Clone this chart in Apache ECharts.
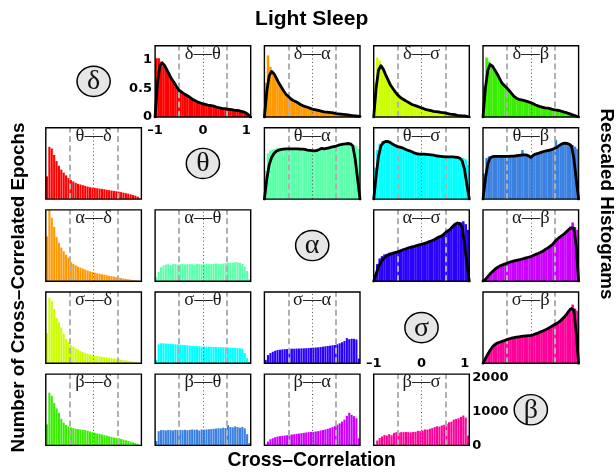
<!DOCTYPE html>
<html><head><meta charset="utf-8">
<script src="https://cdn.jsdelivr.net/npm/echarts@6/dist/echarts.min.js"></script>
<style>html,body{margin:0;padding:0;background:#fff}#c{width:616px;height:472px}</style>
</head><body><div id="c"></div>
<script>
const BANDS = ['δ','θ','α','σ','β'];
const BIN_CENTERS = [-0.975,-0.925,-0.875,-0.825,-0.775,-0.725,-0.675,-0.625,-0.575,-0.525,-0.475,-0.425,-0.375,-0.325,-0.275,-0.225,-0.175,-0.125,-0.075,-0.025,0.025,0.075,0.125,0.175,0.225,0.275,0.325,0.375,0.425,0.475,0.525,0.575,0.625,0.675,0.725,0.775,0.825,0.875,0.925,0.975];
const CURVE_X = [-1,-0.95,-0.9,-0.85,-0.8,-0.75,-0.7,-0.65,-0.6,-0.55,-0.5,-0.45,-0.4,-0.35,-0.3,-0.25,-0.2,-0.15,-0.1,-0.05,0,0.05,0.1,0.15,0.2,0.25,0.3,0.35,0.4,0.45,0.5,0.55,0.6,0.65,0.7,0.75,0.8,0.85,0.9,0.95,1];
const GUIDE_DASHED = [-0.5, 0.5];
const GUIDE_DOTTED = [0];

// Upper triangle: rescaled histograms + fitted curves
const RESCALED_DELTA_THETA = [1.03,1.03,0.97,0.90,0.84,0.78,0.70,0.63,0.56,0.50,0.455,0.425,0.40,0.37,0.345,0.315,0.29,0.27,0.25,0.24,0.225,0.215,0.21,0.20,0.19,0.18,0.165,0.155,0.148,0.142,0.138,0.132,0.125,0.118,0.112,0.105,0.095,0.08,0.055,0.03];
const CURVE_DELTA_THETA = [0,0.6,0.9,0.95,0.90,0.82,0.74,0.66,0.60,0.53,0.47,0.44,0.41,0.385,0.36,0.33,0.30,0.28,0.26,0.245,0.23,0.22,0.21,0.205,0.195,0.185,0.17,0.16,0.15,0.145,0.14,0.135,0.13,0.12,0.115,0.11,0.10,0.09,0.07,0.04,0];
const RESCALED_DELTA_ALPHA = [0.60,1.08,0.88,0.78,0.72,0.64,0.56,0.49,0.43,0.38,0.34,0.305,0.28,0.26,0.235,0.21,0.19,0.178,0.162,0.148,0.135,0.125,0.115,0.105,0.095,0.088,0.082,0.078,0.072,0.065,0.058,0.052,0.048,0.042,0.038,0.032,0.028,0.022,0.018,0.01];
const CURVE_DELTA_ALPHA = [0,0.45,0.72,0.80,0.76,0.68,0.60,0.53,0.46,0.40,0.36,0.32,0.29,0.27,0.25,0.22,0.20,0.185,0.17,0.155,0.14,0.13,0.12,0.11,0.10,0.09,0.085,0.08,0.075,0.07,0.06,0.055,0.05,0.045,0.04,0.035,0.03,0.025,0.02,0.015,0.01];
const RESCALED_DELTA_SIGMA = [0.60,1.04,0.99,0.86,0.78,0.69,0.60,0.53,0.47,0.42,0.37,0.335,0.31,0.285,0.26,0.235,0.21,0.198,0.183,0.168,0.153,0.138,0.125,0.115,0.105,0.098,0.092,0.085,0.078,0.072,0.065,0.055,0.048,0.042,0.035,0.028,0.022,0.02,0.015,0.008];
const CURVE_DELTA_SIGMA = [0,0.5,0.82,0.90,0.84,0.74,0.65,0.56,0.50,0.44,0.39,0.35,0.32,0.295,0.27,0.245,0.22,0.205,0.19,0.175,0.16,0.145,0.13,0.12,0.11,0.10,0.095,0.09,0.08,0.075,0.07,0.06,0.05,0.045,0.04,0.03,0.025,0.02,0.02,0.01,0];
const RESCALED_DELTA_BETA = [0.55,1.04,0.97,0.90,0.85,0.78,0.71,0.63,0.57,0.53,0.49,0.44,0.385,0.345,0.32,0.30,0.295,0.285,0.272,0.258,0.242,0.222,0.203,0.188,0.175,0.165,0.158,0.15,0.14,0.13,0.122,0.115,0.105,0.092,0.08,0.068,0.052,0.038,0.022,0.01];
const CURVE_DELTA_BETA = [0,0.5,0.82,0.92,0.89,0.82,0.75,0.67,0.59,0.55,0.51,0.46,0.41,0.36,0.33,0.31,0.30,0.29,0.28,0.265,0.25,0.235,0.21,0.195,0.18,0.17,0.16,0.155,0.145,0.135,0.125,0.12,0.11,0.10,0.085,0.075,0.06,0.045,0.03,0.015,0];
const RESCALED_THETA_ALPHA = [0.50,0.80,0.85,0.87,0.88,0.90,0.89,0.88,0.89,0.88,0.90,0.88,0.87,0.89,0.88,0.87,0.88,0.86,0.87,0.85,0.85,0.86,0.87,0.88,0.89,0.87,0.90,0.91,0.92,0.92,0.94,0.95,0.96,0.98,0.97,0.99,0.97,0.95,0.93,0.88];
const CURVE_THETA_ALPHA = [0,0.35,0.60,0.73,0.80,0.84,0.86,0.87,0.875,0.88,0.88,0.88,0.88,0.88,0.88,0.875,0.875,0.87,0.86,0.855,0.85,0.845,0.855,0.87,0.89,0.88,0.89,0.90,0.91,0.92,0.93,0.945,0.955,0.965,0.97,0.975,0.97,0.93,0.70,0.35,0];
const RESCALED_THETA_SIGMA = [0.55,0.86,0.97,1.01,1.02,1.01,1.00,0.97,0.95,0.93,0.92,0.90,0.89,0.87,0.85,0.84,0.82,0.80,0.79,0.80,0.79,0.79,0.78,0.78,0.77,0.77,0.76,0.76,0.75,0.74,0.74,0.74,0.75,0.74,0.73,0.73,0.72,0.72,0.70,0.60];
const CURVE_THETA_SIGMA = [0,0.40,0.75,0.93,0.99,1.01,1.01,0.99,0.96,0.94,0.92,0.91,0.90,0.88,0.86,0.845,0.83,0.81,0.795,0.79,0.79,0.79,0.785,0.78,0.775,0.77,0.76,0.755,0.75,0.745,0.74,0.74,0.74,0.74,0.735,0.73,0.72,0.67,0.52,0.25,0];
const RESCALED_THETA_BETA = [0.45,0.72,0.75,0.75,0.76,0.74,0.75,0.76,0.75,0.74,0.75,0.76,0.75,0.76,0.77,0.77,0.86,0.78,0.77,0.74,0.75,0.78,0.79,0.81,0.82,0.83,0.84,0.85,0.86,0.88,1.04,0.92,0.95,0.97,0.98,0.98,0.97,0.95,0.92,0.88];
const CURVE_THETA_BETA = [0,0.35,0.62,0.72,0.745,0.75,0.75,0.75,0.75,0.75,0.75,0.75,0.755,0.755,0.76,0.765,0.77,0.775,0.775,0.76,0.73,0.77,0.79,0.80,0.815,0.83,0.84,0.85,0.86,0.87,0.89,0.91,0.94,0.97,0.98,0.975,0.965,0.93,0.72,0.35,0];
const RESCALED_ALPHA_SIGMA = [0.10,0.30,0.40,0.44,0.47,0.48,0.50,0.50,0.52,0.53,0.55,0.55,0.57,0.58,0.60,0.60,0.61,0.62,0.63,0.64,0.65,0.66,0.68,0.70,0.71,0.73,0.76,0.79,0.80,0.84,0.86,0.89,0.95,0.98,1.02,1.04,1.03,1.05,1.00,0.90];
const CURVE_ALPHA_SIGMA = [0,0.13,0.25,0.33,0.39,0.43,0.46,0.475,0.49,0.50,0.515,0.53,0.545,0.56,0.575,0.59,0.60,0.61,0.625,0.635,0.645,0.66,0.67,0.69,0.705,0.72,0.745,0.77,0.785,0.81,0.85,0.88,0.91,0.96,1.0,1.02,1.01,0.95,0.65,0.30,0];
const RESCALED_ALPHA_BETA = [0.02,0.06,0.11,0.15,0.19,0.23,0.255,0.275,0.295,0.31,0.32,0.34,0.35,0.36,0.37,0.38,0.39,0.40,0.41,0.42,0.44,0.46,0.48,0.50,0.51,0.54,0.57,0.59,0.62,0.66,0.71,0.75,0.79,0.82,0.85,0.89,0.96,1.03,0.95,0.90];
const CURVE_ALPHA_BETA = [0,0.03,0.08,0.13,0.17,0.21,0.24,0.265,0.285,0.30,0.315,0.33,0.345,0.355,0.365,0.375,0.385,0.395,0.41,0.42,0.43,0.45,0.47,0.485,0.505,0.525,0.555,0.58,0.61,0.64,0.69,0.73,0.77,0.80,0.83,0.87,0.91,0.935,0.93,0.62,0];
const RESCALED_SIGMA_BETA = [0.04,0.12,0.20,0.26,0.31,0.345,0.365,0.38,0.39,0.41,0.42,0.44,0.445,0.455,0.46,0.47,0.475,0.48,0.485,0.49,0.495,0.51,0.52,0.54,0.56,0.575,0.595,0.62,0.64,0.67,0.69,0.72,0.75,0.79,0.84,0.89,0.97,1.03,0.96,0.92];
const CURVE_SIGMA_BETA = [0,0.08,0.16,0.23,0.29,0.33,0.355,0.37,0.385,0.40,0.415,0.43,0.44,0.45,0.46,0.465,0.47,0.475,0.48,0.485,0.49,0.50,0.515,0.53,0.55,0.565,0.585,0.605,0.63,0.655,0.68,0.70,0.73,0.77,0.81,0.86,0.92,0.96,0.93,0.55,0];

// Lower triangle: raw counts of cross-correlated epochs
const COUNT_THETA_DELTA = [670,1540,1490,1300,1120,980,870,780,700,620,560,520,480,450,430,410,390,370,350,340,330,320,310,300,290,275,265,250,240,230,220,205,190,175,160,140,120,100,70,20];
const COUNT_ALPHA_DELTA = [1320,2100,1870,1600,1300,1130,990,880,780,690,560,510,470,430,400,370,340,315,290,270,250,235,220,205,190,175,160,148,135,120,105,92,80,68,56,45,35,26,17,8];
const COUNT_ALPHA_THETA = [120,270,410,460,490,500,480,500,510,490,500,505,495,500,510,500,490,505,500,495,500,510,500,505,510,520,515,500,520,530,540,550,545,560,555,540,510,430,300,60];
const COUNT_SIGMA_DELTA = [890,1935,1840,1600,1335,1210,1065,870,715,630,540,490,440,400,360,330,300,280,260,240,220,210,200,190,180,170,160,150,140,130,118,105,95,82,70,58,45,32,20,8];
const COUNT_SIGMA_THETA = [100,560,590,585,580,575,570,565,560,555,545,540,535,525,520,515,510,505,500,495,495,490,490,485,480,480,475,475,470,470,465,460,455,450,445,440,430,300,150,40];
const COUNT_SIGMA_ALPHA = [100,240,300,340,370,390,400,410,415,420,425,430,430,435,435,440,440,445,450,455,460,465,470,480,490,500,510,520,530,540,560,590,620,660,740,710,725,720,700,140];
const COUNT_BETA_DELTA = [620,1555,1460,1250,1090,960,780,670,600,560,530,510,490,480,470,460,450,430,410,390,370,350,340,320,300,290,270,250,230,220,210,190,170,150,130,110,90,70,45,15];
const COUNT_BETA_THETA = [130,420,450,450,440,455,450,440,460,450,455,450,460,445,455,470,460,465,440,470,460,470,475,480,490,495,505,500,520,510,600,540,530,560,540,520,545,500,330,70];
const COUNT_BETA_ALPHA = [25,110,180,210,240,260,270,280,290,300,310,320,330,340,350,360,370,380,390,395,400,410,420,440,455,470,490,510,540,570,610,650,700,760,870,960,900,860,800,210];
const COUNT_BETA_SIGMA = [20,145,215,265,310,290,330,300,370,390,375,390,390,395,390,385,395,400,430,420,440,470,465,490,510,540,560,555,585,605,635,680,700,760,780,800,840,880,820,290];

const UPPER_PANELS = [
  [0,1,RESCALED_DELTA_THETA,CURVE_DELTA_THETA],[0,2,RESCALED_DELTA_ALPHA,CURVE_DELTA_ALPHA],
  [0,3,RESCALED_DELTA_SIGMA,CURVE_DELTA_SIGMA],[0,4,RESCALED_DELTA_BETA,CURVE_DELTA_BETA],
  [1,2,RESCALED_THETA_ALPHA,CURVE_THETA_ALPHA],[1,3,RESCALED_THETA_SIGMA,CURVE_THETA_SIGMA],
  [1,4,RESCALED_THETA_BETA,CURVE_THETA_BETA],[2,3,RESCALED_ALPHA_SIGMA,CURVE_ALPHA_SIGMA],
  [2,4,RESCALED_ALPHA_BETA,CURVE_ALPHA_BETA],[3,4,RESCALED_SIGMA_BETA,CURVE_SIGMA_BETA]
];
const LOWER_PANELS = [
  [1,0,COUNT_THETA_DELTA],[2,0,COUNT_ALPHA_DELTA],[2,1,COUNT_ALPHA_THETA],
  [3,0,COUNT_SIGMA_DELTA],[3,1,COUNT_SIGMA_THETA],[3,2,COUNT_SIGMA_ALPHA],
  [4,0,COUNT_BETA_DELTA],[4,1,COUNT_BETA_THETA],[4,2,COUNT_BETA_ALPHA],[4,3,COUNT_BETA_SIGMA]
];

// styles
const PAIR_COLOR = {
  '0-1':'#ff0000','0-2':'#ff9900','0-3':'#ccff00','0-4':'#38ee00',
  '1-2':'#5cffaa','1-3':'#00ffff','1-4':'#3a80e0',
  '2-3':'#2a00ff','2-4':'#cc00ff','3-4':'#ff0099'
};
const L0 = 45.8, T0 = 45.7, DX = 109.3, DY = 82.1, PW = 95.6, PH = 71.3;
const TICK_FONT = {fontFamily:'DejaVu Sans', fontWeight:'bold', fontSize:13, color:'#000'};

const grids = [], xAxes = [], yAxes = [], series = [], graphics = [];

function addPanel(r, c, bars, curve) {
  const idx = grids.length;
  const left = L0 + DX * c, top = T0 + DY * r;
  const upper = r < c;
  const color = PAIR_COLOR[Math.min(r, c) + '-' + Math.max(r, c)];
  const isTL = (r === 0 && c === 1), isBR = (r === 4 && c === 3);
  const binPx = PW / BIN_CENTERS.length;
  grids.push({left, top, width: PW, height: PH, show: true, z: 20,
    borderColor: '#000', borderWidth: 1.4, backgroundColor: 'transparent'});
  xAxes.push({gridIndex: idx, type: 'value', min: -1, max: 1, interval: 1,
    position: isBR ? 'top' : 'bottom',
    axisLine: {show: false}, axisTick: {show: false}, splitLine: {show: false},
    axisLabel: Object.assign({show: isTL || isBR, margin: isBR ? 4 : 7,
      alignMaxLabel: 'right',
      formatter: v => v < 0 ? '–' + Math.abs(v) : String(v)}, TICK_FONT)});
  yAxes.push({gridIndex: idx, type: 'value', min: 0, max: upper ? 1.25 : 2100,
    interval: upper ? 0.5 : 1000, position: isBR ? 'right' : 'left',
    axisLine: {show: false}, axisTick: {show: false}, splitLine: {show: false},
    axisLabel: Object.assign({show: isTL || isBR, margin: 3, showMaxLabel: false,
      formatter: v => String(v)}, TICK_FONT)});
  const ml = [];
  GUIDE_DASHED.forEach(v => ml.push({xAxis: v, lineStyle: {type: [6, 3.5], width: 2, color: '#b0b0b0'}}));
  GUIDE_DOTTED.forEach(v => ml.push({xAxis: v, lineStyle: {type: [1, 2.6], width: 1, color: '#555'}}));
  series.push({type: 'bar', xAxisIndex: idx, yAxisIndex: idx,
    data: BIN_CENTERS.map((x, i) => [x, bars[i]]),
    barWidth: upper ? binPx + 0.12 : binPx - 0.28, itemStyle: {color}, z: 2, animation: false,
    markLine: {silent: true, symbol: ['none', 'none'], label: {show: false}, animation: false, data: ml}});
  if (curve) {
    series.push({type: 'line', xAxisIndex: idx, yAxisIndex: idx,
      data: CURVE_X.map((x, i) => [x, curve[i]]), symbol: 'none', z: 10, animation: false,
      lineStyle: {color: '#000', width: 2.8, cap: 'round', join: 'round'}});
  }
  graphics.push({type: 'text', x: left + PW / 2, y: top + 8.5, z: 30,
    style: {text: BANDS[r] + '––' + BANDS[c], font: '18.5px "Liberation Serif"', fill: '#1a1a1a',
      align: 'center', verticalAlign: 'middle'}});
}

UPPER_PANELS.forEach(p => addPanel(p[0], p[1], p[2], p[3]));
LOWER_PANELS.forEach(p => addPanel(p[0], p[1], p[2], null));

BANDS.forEach((b, k) => {
  const cx = L0 + DX * k + PW / 2, cy = T0 + DY * k + PH / 2;
  graphics.push({type: 'circle', x: cx, y: cy, scaleY: 0.91, z: 30,
    shape: {cx: 0, cy: 0, r: 16.6}, style: {fill: '#e6e6e6', stroke: '#000', lineWidth: 1.5}});
  graphics.push({type: 'text', x: cx, y: cy + 0.5, z: 31,
    style: {text: b, font: '28px "Liberation Serif"', fill: '#111', align: 'center', verticalAlign: 'middle'}});
});

const TITLE_FONT = 'bold 21px "Liberation Sans"';
const AXIS_TITLE_FONT = 'bold 18.8px "Liberation Sans"';
graphics.push({type: 'text', x: 311.7, y: 19.5, z: 30,
  style: {text: 'Light Sleep', font: TITLE_FONT, fill: '#000', align: 'center', verticalAlign: 'middle'}});
graphics.push({type: 'text', x: 311.7, y: 460.5, z: 30,
  style: {text: 'Cross–Correlation', font: 'bold 19.3px "Liberation Sans"', fill: '#000', align: 'center', verticalAlign: 'middle'}});
graphics.push({type: 'text', x: 18.5, y: 287.5, rotation: Math.PI / 2, z: 30,
  style: {text: 'Number of Cross–Correlated Epochs', font: AXIS_TITLE_FONT, fill: '#000', align: 'center', verticalAlign: 'middle'}});
graphics.push({type: 'text', x: 606, y: 204, rotation: -Math.PI / 2, z: 30,
  style: {text: 'Rescaled Histograms', font: AXIS_TITLE_FONT, fill: '#000', align: 'center', verticalAlign: 'middle'}});

const chart = echarts.init(document.getElementById('c'), null, {renderer: 'canvas'});
chart.setOption({
  animation: false,
  backgroundColor: '#fff',
  grid: grids, xAxis: xAxes, yAxis: yAxes, series: series,
  graphic: {elements: graphics}
});
</script>
</body></html>
